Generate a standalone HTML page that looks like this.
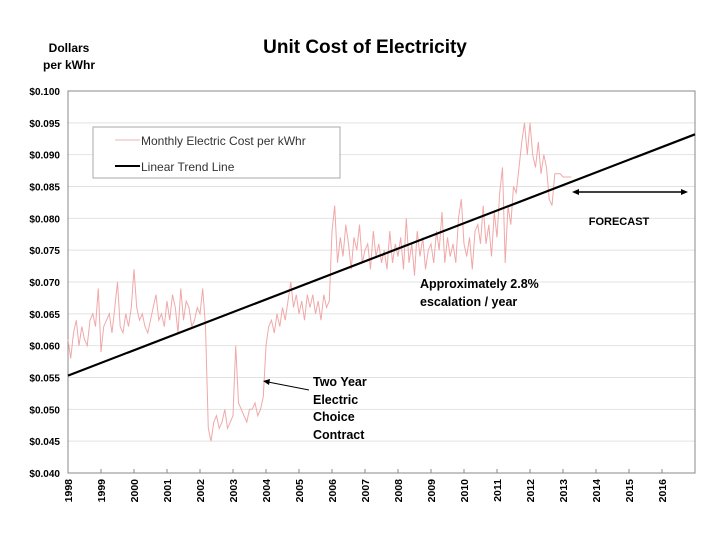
<!DOCTYPE html>
<html><head><meta charset="utf-8"><style>
body{margin:0;background:#fff;}
svg{font-family:"Liberation Sans",Arial,sans-serif;}
</style></head><body>
<svg width="720" height="540" viewBox="0 0 720 540">
<text x="365" y="53" text-anchor="middle" font-size="19" font-weight="bold">Unit Cost of Electricity</text>
<text x="72" y="52" text-anchor="middle" font-size="12" font-weight="bold"><tspan x="69">Dollars</tspan><tspan x="69" dy="17">per kWhr</tspan></text>
<g id="grid"></g>
<rect x="68" y="91" width="627" height="382" fill="none" stroke="#888" stroke-width="1"/>
<g id="ticks"></g>
<g id="series"></g>
<g>
<rect x="93" y="127" width="247" height="51" fill="#fff" stroke="#aaa" stroke-width="1"/>
<line x1="115" y1="140" x2="140" y2="140" stroke="#f2b3b3" stroke-width="1"/>
<text x="141" y="145" font-size="12" fill="#333">Monthly Electric Cost per kWhr</text>
<line x1="115" y1="166" x2="140" y2="166" stroke="#000" stroke-width="2"/>
<text x="141" y="171" font-size="12" fill="#333">Linear Trend Line</text>
</g>
<g>
<line x1="576" y1="192" x2="684" y2="192" stroke="#000" stroke-width="1.5"/>
<polygon points="572,192 579,189 579,195" fill="#000"/>
<polygon points="688,192 681,189 681,195" fill="#000"/>
<text x="619" y="225" text-anchor="middle" font-size="11" font-weight="bold">FORECAST</text>
</g>
<text font-size="12.5" font-weight="bold"><tspan x="420" y="288">Approximately 2.8%</tspan><tspan x="420" y="306">escalation / year</tspan></text>
<g>
<line x1="309" y1="390" x2="268" y2="382" stroke="#000" stroke-width="1"/>
<polygon points="263,381 270,379 269,385" fill="#000"/>
<text font-size="12.5" font-weight="bold"><tspan x="313" y="386">Two Year</tspan><tspan x="313" y="404">Electric</tspan><tspan x="313" y="421">Choice</tspan><tspan x="313" y="439">Contract</tspan></text>
</g>
</svg>
<script>
const yTicks=[0.040,0.045,0.050,0.055,0.060,0.065,0.070,0.075,0.080,0.085,0.090,0.095,0.100];
const years=[1998,1999,2000,2001,2002,2003,2004,2005,2006,2007,2008,2009,2010,2011,2012,2013,2014,2015,2016];
const monthlyCost=[
0.061,0.058,0.062,0.064,0.060,0.063,0.061,0.060,0.064,0.065,0.063,0.069,
0.059,0.063,0.064,0.065,0.062,0.066,0.070,0.063,0.062,0.065,0.063,0.066,
0.072,0.066,0.064,0.065,0.063,0.062,0.064,0.066,0.068,0.064,0.065,0.063,
0.067,0.064,0.068,0.066,0.062,0.069,0.064,0.067,0.066,0.063,0.064,0.066,
0.065,0.069,0.063,0.047,0.045,0.048,0.049,0.047,0.048,0.050,0.047,0.048,
0.049,0.060,0.051,0.050,0.049,0.048,0.050,0.050,0.051,0.049,0.050,0.052,
0.060,0.063,0.064,0.062,0.065,0.063,0.066,0.064,0.067,0.070,0.066,0.068,
0.065,0.067,0.064,0.068,0.066,0.068,0.065,0.067,0.064,0.068,0.066,0.067,
0.078,0.082,0.073,0.077,0.074,0.079,0.076,0.072,0.077,0.075,0.079,0.073,
0.075,0.076,0.072,0.078,0.074,0.076,0.073,0.075,0.072,0.078,0.073,0.076,
0.074,0.077,0.072,0.080,0.073,0.076,0.071,0.078,0.074,0.077,0.072,0.075,
0.076,0.073,0.078,0.075,0.081,0.073,0.077,0.074,0.076,0.073,0.080,0.083,
0.076,0.074,0.077,0.072,0.078,0.079,0.076,0.082,0.076,0.079,0.074,0.081,
0.077,0.084,0.088,0.073,0.082,0.079,0.085,0.084,0.088,0.092,0.095,0.090,
0.095,0.090,0.088,0.092,0.087,0.090,0.088,0.083,0.082,0.087,0.087,0.087,
0.0865,0.0865,0.0865,0.0865];
const trendYears=[1998,2017];
const trendValues=[0.0553,0.0932];
const NS="http://www.w3.org/2000/svg";
const X0=68,X1=695,Y0=473,Y1=91;
function xs(t){return X0+(t-1998)/(2017-1998)*(X1-X0);}
function ys(v){return Y0-(v-0.040)/(0.100-0.040)*(Y0-Y1);}
function mk(tag,attrs,parent){const e=document.createElementNS(NS,tag);for(const k in attrs)e.setAttribute(k,attrs[k]);parent.appendChild(e);return e;}
const grid=document.getElementById('grid'),ticks=document.getElementById('ticks'),series=document.getElementById('series');
yTicks.forEach(v=>{
 const y=ys(v);
 const g=mk('line',{x1:X0,x2:X1,y1:y,y2:y,stroke:'#e2e2e2','stroke-width':1},grid);
 
 
 const t=mk('text',{x:60,y:y+4,'text-anchor':'end','font-size':10,'font-weight':'bold'},ticks);
 t.textContent='$'+v.toFixed(3);
 
 
});
years.forEach(yr=>{
 const x=xs(yr);
 mk('line',{x1:x,x2:x,y1:Y0-4,y2:Y0,stroke:'#888'},ticks);
 const t=mk('text',{x:0,y:0,'text-anchor':'end','font-size':10.5,'font-weight':'bold',transform:`translate(${x+4},${Y0+6}) rotate(-90)`},ticks);
 t.textContent=yr;
 
 
});
let d='';
monthlyCost.forEach((v,i)=>{d+=(i?'L':'M')+xs(1998+i/12).toFixed(1)+','+ys(v).toFixed(1);});
const p=mk('path',{d:d,fill:'none',stroke:'#f0a8a8','stroke-width':1},series);


const tl=mk('line',{x1:xs(trendYears[0]),y1:ys(trendValues[0]),x2:xs(trendYears[1]),y2:ys(trendValues[1]),stroke:'#000','stroke-width':2.2},series);


</script>
</body></html>
